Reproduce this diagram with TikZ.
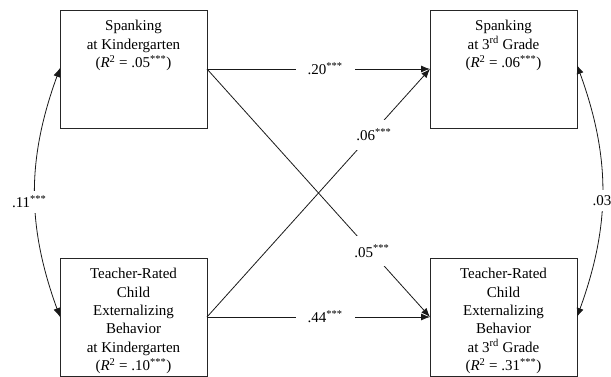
\documentclass[tikz,border=0pt]{standalone}
\usepackage{fontspec}
\setmainfont{Liberation Serif}
\usetikzlibrary{arrows.meta}
\begin{document}
\begin{tikzpicture}[x=1pt,y=-1pt,
  box/.style={draw=black!85,line width=0.9pt,minimum width=147pt,minimum height=118pt,inner sep=0pt,outer sep=0pt},
  boxtext/.style={anchor=north,align=center,inner sep=0pt,font=\fontsize{15}{18.4}\selectfont},
  conn/.style={line width=0.8pt,draw=black!90,-{Latex[length=9pt,width=7pt]}},
  dconn/.style={line width=0.8pt,draw=black!90,{Latex[length=9pt,width=7pt]}-{Latex[length=9pt,width=7pt]}},
  lab/.style={fill=white,inner ysep=5pt,inner xsep=3pt,font=\fontsize{15}{18}\selectfont},
  hlab/.style={lab,inner xsep=12pt},
  dlab/.style={lab,inner xsep=2pt,inner ysep=9pt}]
\useasboundingbox (0,0) rectangle (611,377);
\node[box] (tl) at (133.5,69) {};
\node[box] (tr) at (503.5,69) {};
\node[box] (bl) at (133.5,317) {};
\node[box] (br) at (503.5,317) {};
\node[boxtext] (tlt) at ([yshift=-10pt]tl.north) {Spanking\\at Kindergarten\\(\textit{R}\textsuperscript{2} = .05\textsuperscript{***})};
\node[boxtext] (trt) at ([yshift=-10pt]tr.north) {Spanking\\at 3\textsuperscript{rd} Grade\\(\textit{R}\textsuperscript{2} = .06\textsuperscript{***})};
\node[boxtext] (blt) at ([yshift=-10pt]bl.north) {Teacher-Rated\\Child\\Externalizing\\Behavior\\at Kindergarten\\(\textit{R}\textsuperscript{2} = .10\textsuperscript{***})};
\node[boxtext] (brt) at ([yshift=-10pt]br.north) {Teacher-Rated\\Child\\Externalizing\\Behavior\\at 3\textsuperscript{rd} Grade\\(\textit{R}\textsuperscript{2} = .31\textsuperscript{***})};
\draw[conn] (tl.east) -- (br.west) node[dlab,pos=0.735,xshift=1pt] {.05\textsuperscript{***}};
\draw[conn] (bl.east) -- (tr.west) node[dlab,pos=0.735,xshift=3pt] {.06\textsuperscript{***}};
\draw[conn] (tl.east) -- (tr.west) node[hlab,pos=0.53] {.20\textsuperscript{***}};
\draw[conn] (bl.east) -- (br.west) node[hlab,pos=0.53] {.44\textsuperscript{***}};
\draw[dconn] ([yshift=1pt]tl.west) to[bend right=20] node[lab,pos=0.54,xshift=-6pt,inner xsep=1pt] {.11\textsuperscript{***}} (bl.west);
\draw[dconn] ([yshift=4pt]tr.east) to[bend left=20] node[lab,pos=0.54,inner xsep=1pt] {.03} (br.east);
\end{tikzpicture}
\end{document}
